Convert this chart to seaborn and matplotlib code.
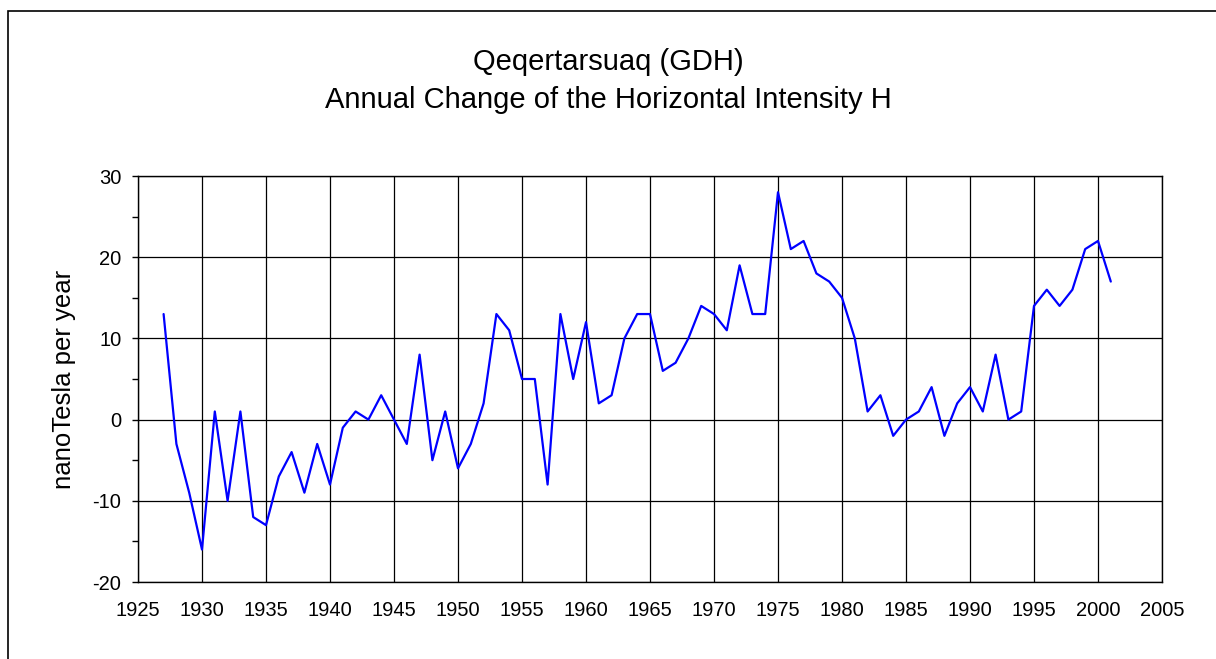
import numpy as np
import pandas as pd
import matplotlib
matplotlib.use("Agg")
import matplotlib.pyplot as plt
from matplotlib.patches import Rectangle
from matplotlib.ticker import MultipleLocator
import seaborn as sns

years = list(range(1927, 2002))
values = [13, -3, -9, -16, 1, -10, 1, -12, -13, -7,
          -4, -9, -3, -8, -1, 1, 0, 3, 0, -3,
          8, -5, 1, -6, -3, 2, 13, 11, 5, 5,
          -8, 13, 5, 12, 2, 3, 10, 13, 13, 6,
          7, 10, 14, 13, 11, 19, 13, 13, 28, 21,
          22, 18, 17, 15, 10, 1, 3, -2, 0, 1,
          4, -2, 2, 4, 1, 8, 0, 1, 14, 16,
          14, 16, 21, 22, 17]
title_lines = ["Qeqertarsuaq (GDH)", "Annual Change of the Horizontal Intensity H"]
ylabel = "nanoTesla per year"

df = pd.DataFrame({"year": years, "value": values})

sns.set_style("white")
plt.rcParams["font.family"] = ["Liberation Sans", "DejaVu Sans"]
plt.rcParams["axes.unicode_minus"] = False
plt.rcParams["text.color"] = "black"
plt.rcParams["axes.labelcolor"] = "black"
plt.rcParams["xtick.color"] = "black"
plt.rcParams["ytick.color"] = "black"

fig = plt.figure(figsize=(12.16, 6.59), dpi=100)
ax = fig.add_axes([138/1216, 1-582/659, (1162-138)/1216, (582-176)/659])

sns.lineplot(data=df, x="year", y="value", ax=ax, color="#0000ff", linewidth=1.6)

ax.set_xlim(1925, 2005)
ax.set_ylim(-20, 30)
ax.set_xticks(range(1925, 2006, 5))
ax.set_yticks(range(-20, 31, 10))
ax.yaxis.set_minor_locator(MultipleLocator(5))
ax.grid(True, which="major", color="black", linewidth=0.9)
ax.set_axisbelow(True)
for s in ax.spines.values():
    s.set_color("black")
    s.set_linewidth(1.0)
ax.tick_params(axis="x", which="both", length=0, labelsize=14.5, pad=14, labelcolor="black")
ax.tick_params(axis="y", which="major", length=4, width=1, color="black", labelsize=14.5, pad=8,
               left=True, labelcolor="black")
ax.tick_params(axis="y", which="minor", length=4, width=1, color="black", left=True)
ax.set_xlabel("")
ax.set_ylabel(ylabel, fontsize=18.5, labelpad=12, color="black")

fig.text(0.5, 1-62/659, title_lines[0], ha="center", va="center", fontsize=21, color="black")
fig.text(0.5, 1-100/659, title_lines[1], ha="center", va="center", fontsize=21, color="black")

fig.patches.append(Rectangle((8/1216, -0.1), 1.2, 1-11/659+0.1, transform=fig.transFigure,
                             fill=False, edgecolor="black", linewidth=1.2))

fig.savefig("out.png", dpi=100)
